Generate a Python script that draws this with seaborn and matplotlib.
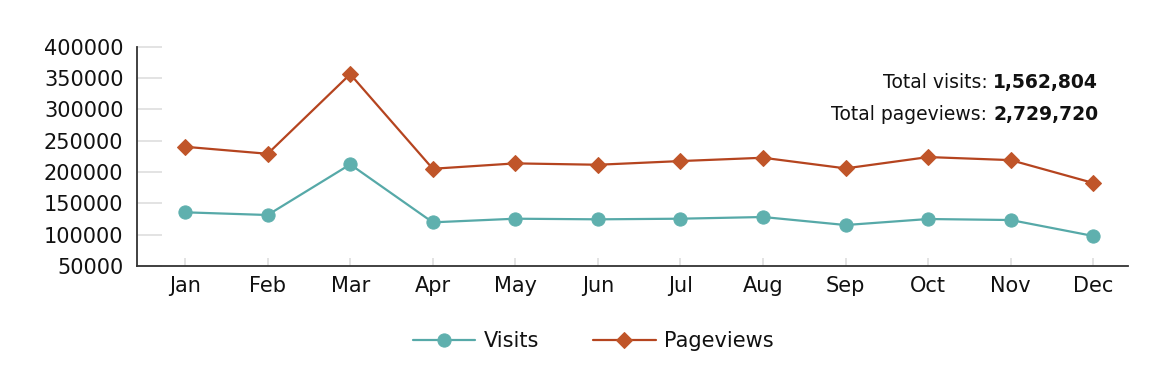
import pandas as pd
import seaborn as sns
import matplotlib.pyplot as plt

months = ['Jan', 'Feb', 'Mar', 'Apr', 'May', 'Jun', 'Jul', 'Aug', 'Sep', 'Oct', 'Nov', 'Dec']
visits = [135700, 131400, 212200, 119700, 125500, 124500, 125500, 128200, 115400, 125000, 123400, 97900]
pageviews = [240300, 229100, 356200, 205200, 213800, 211600, 217500, 222800, 205800, 223900, 219000, 182500]
yticks = [50000, 100000, 150000, 200000, 250000, 300000, 350000, 400000]
total_visits = '1,562,804'
total_pageviews = '2,729,720'

df = pd.DataFrame({'month': months, 'Visits': visits, 'Pageviews': pageviews})
df['x'] = range(len(months))

sns.set_theme(style='white')
plt.rcParams['font.family'] = ['DejaVu Sans']
plt.rcParams['text.color'] = '#111111'

fig = plt.figure(figsize=(11.7, 3.77), dpi=100)
ax = fig.add_axes([0.1174, 0.2944, 0.8467, 0.5817])

teal_line, teal_mark = '#56a9a8', '#5fb0ae'
rust_line, rust_mark = '#b5441f', '#c05529'

sns.lineplot(data=df, x='x', y='Visits', ax=ax, color=teal_line, linewidth=1.6,
             marker='o', markersize=9.5, markerfacecolor=teal_mark, markeredgecolor=teal_mark,
             label='Visits')
sns.lineplot(data=df, x='x', y='Pageviews', ax=ax, color=rust_line, linewidth=1.6,
             marker='D', markersize=8, markerfacecolor=rust_mark, markeredgecolor=rust_mark,
             label='Pageviews')

ax.set_xlim(-0.578, 11.42)
ax.set_ylim(50000, 400000)
ax.set_xticks(df['x'])
ax.set_xticklabels(months)
ax.set_yticks(yticks)
ax.set_yticklabels([str(v) for v in yticks])
ax.set_xlabel('')
ax.set_ylabel('')

for s in ['top', 'right']:
    ax.spines[s].set_visible(False)
for s in ['left', 'bottom']:
    ax.spines[s].set_color('#333333')
    ax.spines[s].set_linewidth(1.3)

ax.tick_params(axis='y', direction='in', length=18, width=1.2, color='#dedede',
               labelsize=15, pad=10, labelcolor='#111111')
ax.tick_params(axis='x', direction='in', length=6, width=1.2, color='#dedede',
               labelsize=15, pad=7, labelcolor='#111111')
ax.tick_params(left=True, bottom=True)

# totals, regular label + bold number
b1 = ax.text(0.970, 0.839, total_visits, transform=ax.transAxes, ha='right', va='center',
             fontsize=13.5, fontweight='bold', color='#111111')
ax.annotate('Total visits: ', xy=(0, 0.5), xycoords=b1, ha='right', va='center',
            fontsize=13.5, color='#111111')
b2 = ax.text(0.970, 0.693, total_pageviews, transform=ax.transAxes, ha='right', va='center',
             fontsize=13.5, fontweight='bold', color='#111111')
ax.annotate('Total pageviews: ', xy=(0, 0.5), xycoords=b2, ha='right', va='center',
            fontsize=13.5, color='#111111')

leg = ax.legend(loc='center', bbox_to_anchor=(0.46, -0.342), ncol=2, frameon=False,
                fontsize=15, handlelength=3.0, columnspacing=2.6, handletextpad=0.4)
for t in leg.get_texts():
    t.set_color('#111111')

fig.savefig('out.png', dpi=100)
